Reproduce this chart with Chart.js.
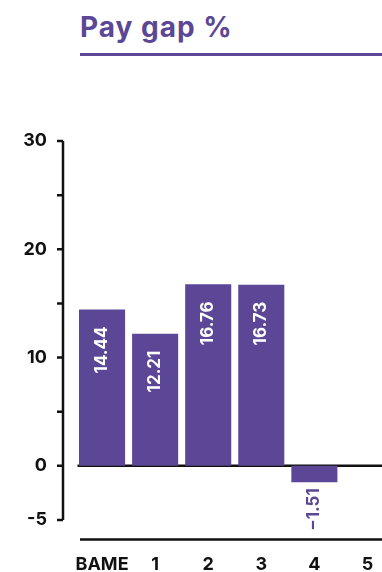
<!DOCTYPE html>
<html>
<head>
<meta charset="utf-8">
<script src="https://cdn.jsdelivr.net/npm/chart.js@4/dist/chart.umd.min.js"></script>
<style>
  html, body { margin: 0; padding: 0; background: #fff; overflow: hidden; }
  body { width: 382px; height: 572px; position: relative; }
  .title {
    position: absolute; left: 80px; top: 13px;
    font: 700 28px/1 Inter, sans-serif; color: #5b4795; letter-spacing: 1px;
  }
  .rule { position: absolute; left: 80px; top: 53px; width: 302px; height: 2.5px; background: #5b4795; }
  #gap { position: absolute; left: 0; top: 0; }
</style>
</head>
<body>
<div class="title">Pay gap %</div>
<div class="rule"></div>
<canvas id="gap" width="394" height="572"></canvas>
<script>
const categories = ['BAME', '1', '2', '3', '4', '5']
const payGap = [14.44, 12.21, 16.76, 16.73, -1.51, null]
const shownTicks = [30, 20, 10, 0, -5]

const purple = '#5b4795'
const ink = '#111'
const font = { family: 'Inter, sans-serif', weight: '700', size: 18 }

// axis line, minor ticks, zero line and bottom rule, plus the rotated bar values
const decorations = {
  id: 'decorations',
  beforeDatasetsDraw(chart) {
    const { ctx, chartArea, scales: { y } } = chart
    ctx.save()
    ctx.strokeStyle = ink
    ctx.lineWidth = 2.5
    const axisX = chartArea.left - 12.5
    ctx.beginPath()
    ctx.moveTo(axisX, y.getPixelForValue(y.max))
    ctx.lineTo(axisX, y.getPixelForValue(y.min))
    y.ticks.forEach(t => {
      const py = y.getPixelForValue(t.value)
      ctx.moveTo(axisX - 6, py)
      ctx.lineTo(axisX, py)
    })
    ctx.stroke()
    ctx.beginPath()
    ctx.moveTo(chartArea.left + 2, y.getPixelForValue(0))
    ctx.lineTo(chartArea.right, y.getPixelForValue(0))
    ctx.moveTo(chartArea.left + 4.5, chartArea.bottom + 19.5)
    ctx.lineTo(chartArea.right, chartArea.bottom + 19.5)
    ctx.stroke()
    ctx.restore()
  },
  afterDatasetsDraw(chart) {
    const { ctx } = chart
    const meta = chart.getDatasetMeta(0)
    ctx.save()
    ctx.font = '700 17px Inter, sans-serif'
    ctx.textBaseline = 'middle'
    ctx.textAlign = 'right'
    meta.data.forEach((bar, i) => {
      const v = payGap[i]
      if (v === null) return
      const text = v < 0 ? '\u2212' + Math.abs(v).toFixed(2) : v.toFixed(2)
      ctx.save()
      // positive values sit inside the bar top, negative ones hang below the bar
      ctx.fillStyle = v >= 0 ? '#fff' : purple
      ctx.translate(bar.x, bar.y + (v >= 0 ? 17 : 6))
      ctx.rotate(-Math.PI / 2)
      ctx.fillText(text, 0, 0)
      ctx.restore()
    })
    ctx.restore()
  }
}

new Chart(document.getElementById('gap'), {
  type: 'bar',
  data: {
    labels: categories,
    datasets: [{
      data: payGap,
      backgroundColor: purple,
      borderWidth: 0,
      barPercentage: 0.868,
      categoryPercentage: 1
    }]
  },
  options: {
    responsive: false,
    animation: false,
    layout: { padding: { top: 141, left: 0, right: 0, bottom: 0 } },
    plugins: { legend: { display: false }, tooltip: { enabled: false } },
    scales: {
      x: {
        grid: { display: false, drawTicks: false },
        border: { display: false },
        ticks: { color: ink, font: font, padding: 34, maxRotation: 0, autoSkip: false },
        // tick padding would otherwise also pad the scale sideways
        afterFit: s => { s.height = 52; s.paddingLeft = 0; s.paddingRight = 0 }
      },
      y: {
        min: -5,
        max: 30,
        grid: { display: false, drawTicks: false },
        border: { display: false },
        ticks: {
          stepSize: 5,
          color: ink,
          font: font,
          padding: 28.5,
          autoSkip: false,
          callback: v => shownTicks.includes(v) ? String(v) : ''
        },
        afterFit: s => { s.width = 75.5; s.paddingTop = 0; s.paddingBottom = 0 }
      }
    }
  },
  plugins: [decorations]
})
</script>
</body>
</html>
